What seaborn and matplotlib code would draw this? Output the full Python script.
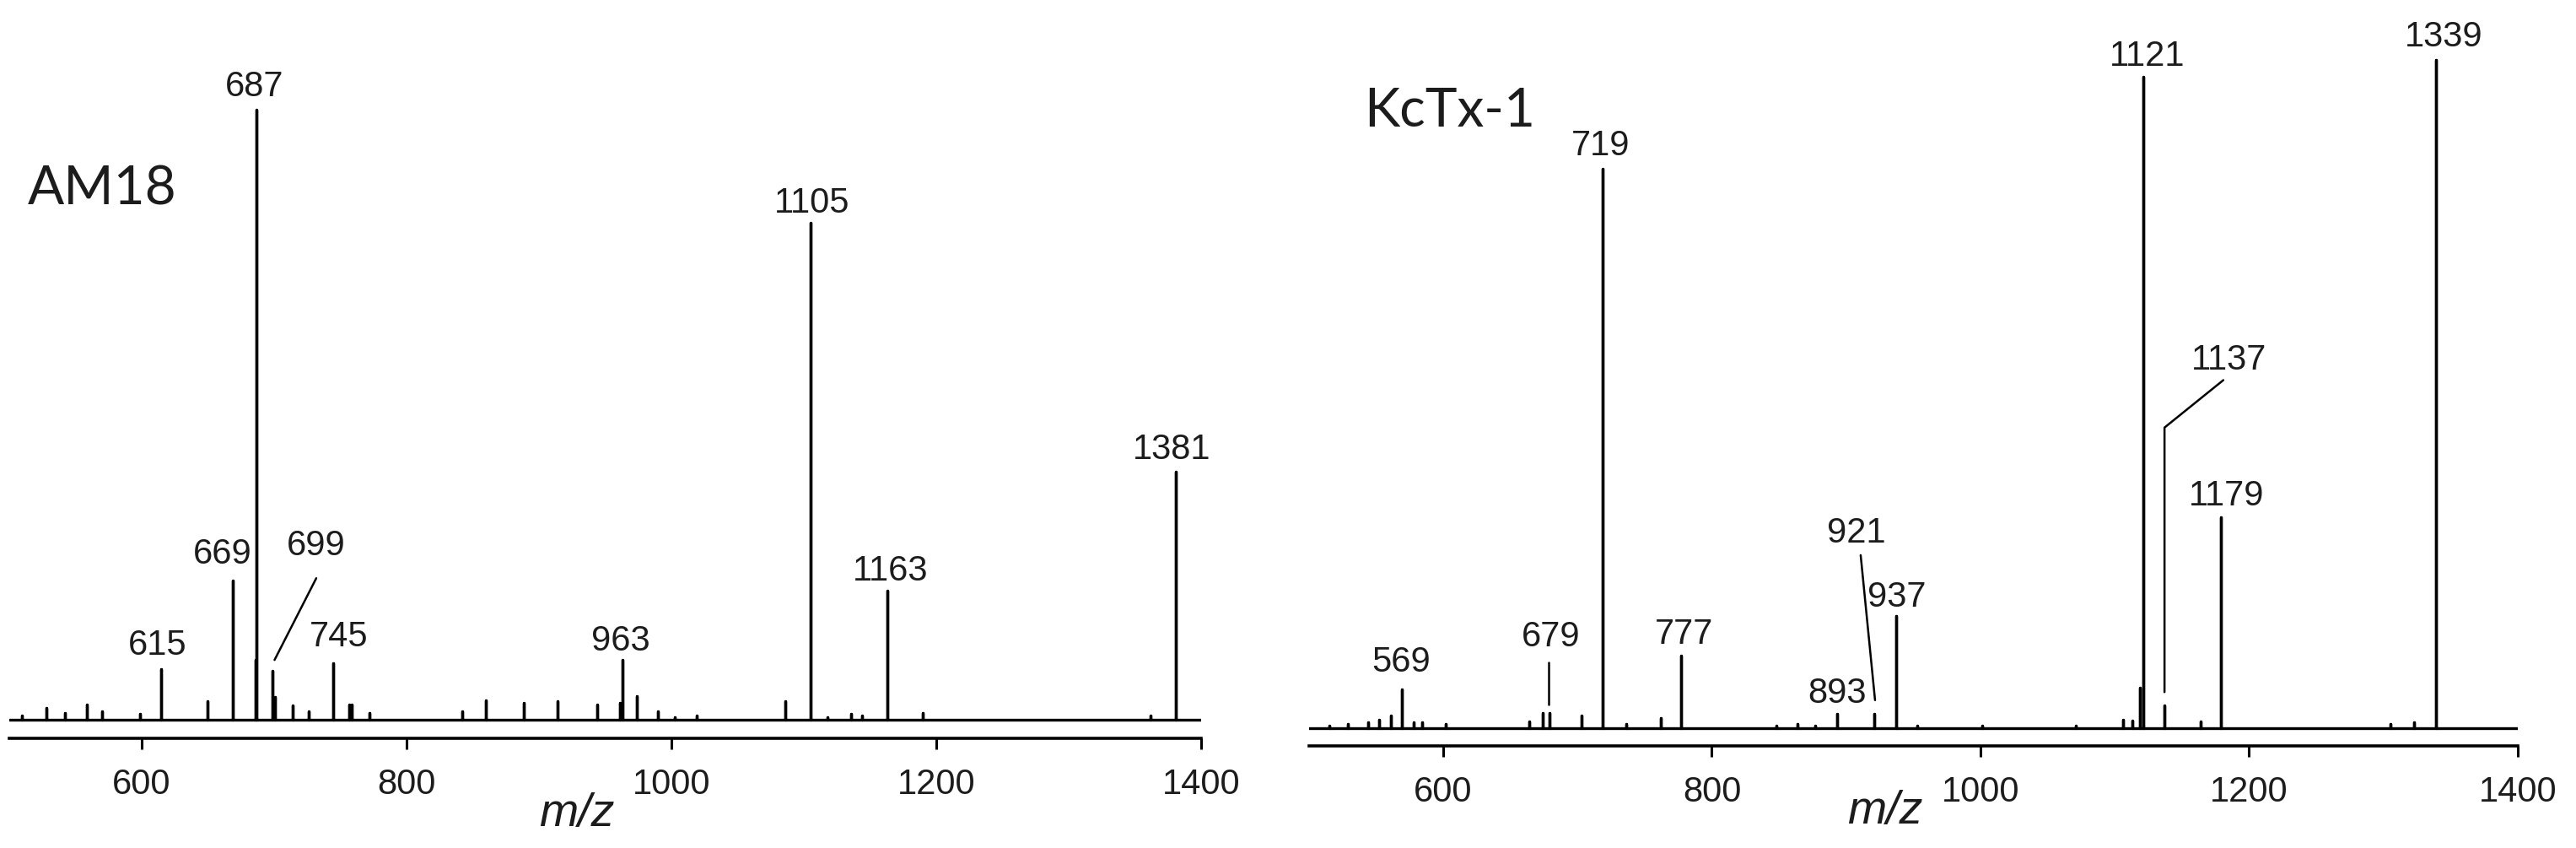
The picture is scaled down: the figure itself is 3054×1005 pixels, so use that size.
import matplotlib
matplotlib.use("Agg")
import matplotlib.pyplot as plt
import pandas as pd
import seaborn as sns

# ---- data: peak m/z and relative intensity (% of base peak) ----
am18_mz = [510, 528, 542, 559, 570, 599, 615, 650, 669, 686, 687, 699, 701,
           714, 726, 745, 757, 759, 772, 842, 860, 889, 914, 944, 961, 963,
           974, 990, 1003, 1019, 1086, 1105, 1118, 1136, 1144, 1163, 1190,
           1362, 1381]
am18_int = [0.7, 1.9, 1.1, 2.5, 1.4, 1.0, 8.3, 3.0, 22.8, 9.8, 100.0, 8.0, 3.7,
            2.3, 1.4, 9.3, 2.5, 2.5, 1.1, 1.4, 3.2, 2.8, 3.0, 2.5, 2.8, 9.8,
            3.9, 1.4, 0.4, 0.7, 3.0, 81.5, 0.4, 1.0, 0.7, 21.2, 1.1,
            0.7, 40.7]
am18_labels = ["615", "669", "687", "699", "745", "963", "1105", "1163", "1381"]

kctx_mz = [515, 529, 544, 552, 561, 569, 578, 584, 602, 664, 674, 679, 703,
           719, 736, 762, 777, 848, 864, 877, 893, 921, 937, 953, 1001, 1071,
           1106, 1113, 1119, 1121, 1137, 1164, 1179, 1305, 1323, 1339]
kctx_int = [0.4, 0.6, 0.9, 1.3, 1.9, 5.8, 0.9, 0.9, 0.6, 1.0, 2.3, 2.3, 1.9,
            83.8, 0.6, 1.5, 10.9, 0.4, 0.6, 0.4, 2.1, 2.1, 16.8, 0.4, 0.4, 0.4,
            1.3, 1.1, 6.1, 97.5, 3.4, 1.0, 31.6, 0.6, 0.9, 100.0]
kctx_labels = ["569", "679", "719", "777", "893", "921", "937", "1121", "1137",
               "1179", "1339"]

x_ticks = [600, 800, 1000, 1200, 1400]

# ---- layout: label anchor points (data coords) and leader lines ----
am18_label_pos = {
    "615": (612, 12.2), "669": (661, 27.1), "687": (685.5, 103.7),
    "699": (732, 28.5), "745": (749, 13.6), "963": (962, 12.9),
    "1105": (1106, 84.6), "1163": (1165.5, 24.3), "1381": (1378, 44.3),
}
am18_leaders = [([732, 700.5], [23.2, 9.8])]

kctx_label_pos = {
    "569": (569, 9.8), "679": (680, 13.6), "719": (717, 87.2),
    "777": (779.5, 14.0), "893": (893, 5.2), "921": (907.7, 29.2),
    "937": (938, 19.6), "1121": (1124, 100.5), "1137": (1185, 55.1),
    "1179": (1183, 34.7), "1339": (1345, 103.4),
}
kctx_leaders = [([910.8, 921.5], [25.9, 4.2]),
                ([678.5, 678.5], [9.8, 3.5]),
                ([1137, 1137, 1180.8], [5.4, 45.0, 52.1])]

INK = "#1c1c1c"


def spectrum_frame(mz, inten, lo=500, hi=1400):
    rows = [(lo, 0.0)]
    for m, h in sorted(zip(mz, inten)):
        rows += [(m, 0.0), (m, h), (m, 0.0)]
    rows.append((hi, 0.0))
    return pd.DataFrame(rows, columns=["mz", "intensity"])


def draw_panel(ax, mz, inten, label_pos, leaders, title, title_pos, ylim,
               mz_label_y):
    df = spectrum_frame(mz, inten)
    sns.lineplot(data=df, x="mz", y="intensity", sort=False, estimator=None,
                 color="black", linewidth=2.4, ax=ax)
    for xs, ys in leaders:
        ax.plot(xs, ys, color="black", linewidth=1.8)
    for text, (x, y) in label_pos.items():
        ax.text(x, y, text, ha="center", va="center", fontsize=30, color=INK)
    ax.text(title_pos[0], title_pos[1], title, ha="left", va="center",
            fontsize=46, color=INK, family=["Lato", "DejaVu Sans"])
    ax.text(929, mz_label_y, "m/z", ha="center", va="center", fontsize=40,
            fontstyle="italic", color=INK, clip_on=False)

    ax.set_xlim(500, 1400)
    ax.set_ylim(*ylim)
    ax.set_xticks(x_ticks)
    ax.set_xticklabels([str(t) for t in x_ticks])
    ax.set_yticks([])
    ax.set_xlabel("")
    ax.set_ylabel("")
    sns.despine(ax=ax, left=True)
    ax.spines["bottom"].set_linewidth(2.6)
    ax.spines["bottom"].set_color("black")
    ax.tick_params(axis="x", direction="out", length=9.5, width=2.2,
                   labelsize=30, labelcolor=INK, pad=16, color="black")


sns.set_theme(style="ticks")
plt.rcParams["font.family"] = ["Liberation Sans", "DejaVu Sans"]

fig = plt.figure(figsize=(30.54, 10.05), dpi=100)
ax_left = fig.add_axes([0.0035, 0.1294, 0.4627, 0.8706])
ax_right = fig.add_axes([0.5081, 0.1204, 0.4693, 0.8796])
for a in (ax_left, ax_right):
    a.patch.set_alpha(0)

draw_panel(ax_left, am18_mz, am18_int, am18_label_pos, am18_leaders,
           "AM18", (514, 87.0), (-3.04, 118.0), -15.5)
draw_panel(ax_right, kctx_mz, kctx_int, kctx_label_pos, kctx_leaders,
           "KcTx-1", (541, 92.3), (-2.65, 109.0), -12.5)

fig.savefig("out.png", dpi=100, facecolor="white")
plt.close(fig)
